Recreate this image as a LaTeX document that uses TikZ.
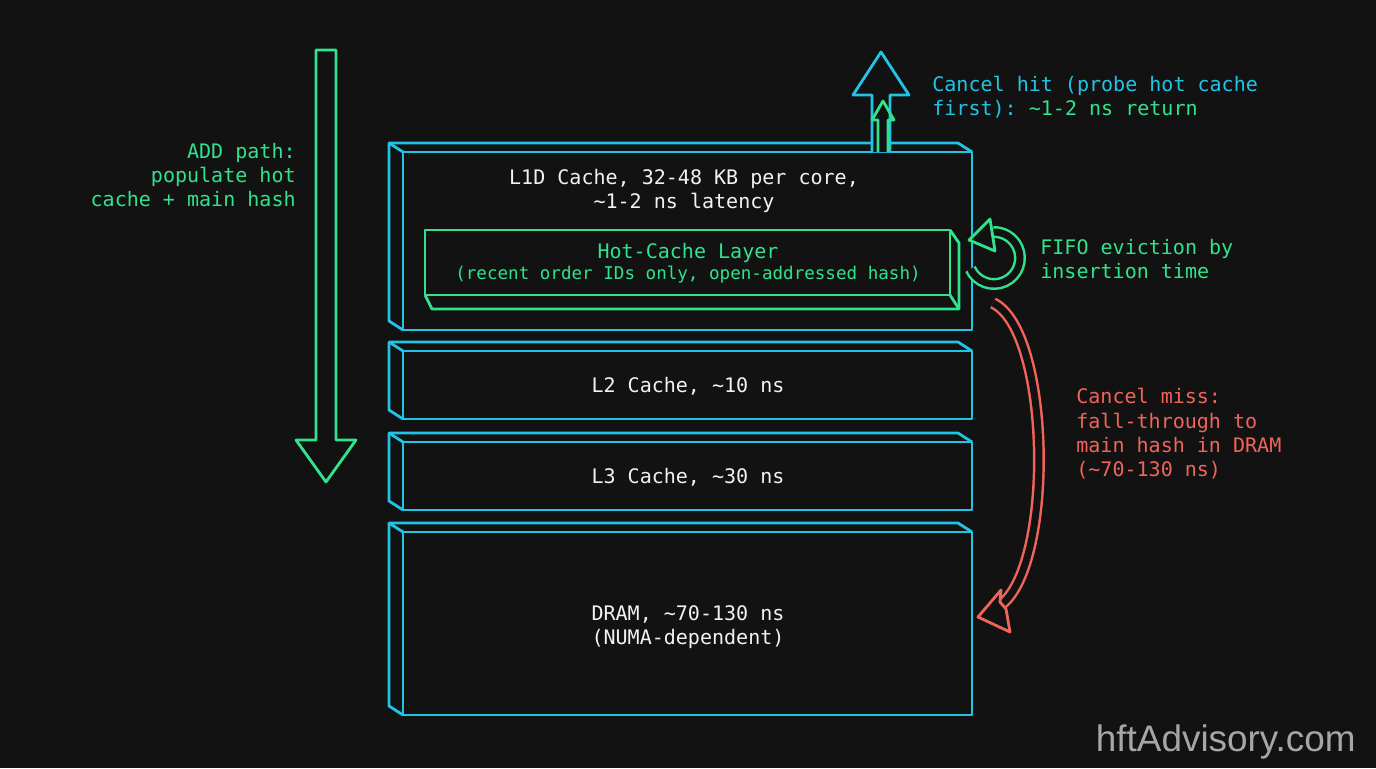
\documentclass[tikz,border=0pt]{standalone}
\usepackage{fontspec}
\setmonofont{DejaVu Sans Mono}
\setsansfont{Liberation Sans}
\definecolor{bg}{HTML}{121212}
\definecolor{cy}{HTML}{22C4E6}
\definecolor{gr}{HTML}{30E38C}
\definecolor{rd}{HTML}{F0645A}
\definecolor{tx}{HTML}{F2F2F2}
\begin{document}
\begin{tikzpicture}[x=0.02cm, y=-0.02cm,
  face/.style={draw=cy, line width=1.6pt, line join=round},
  hot/.style={draw=gr, line width=1.6pt, line join=round},
  lbl/.style={font=\ttfamily\fontsize{11.4}{13.9}\selectfont, align=center, text=tx, inner sep=0pt},
  note/.style={font=\ttfamily\fontsize{11.4}{13.9}\selectfont, inner sep=0pt}]

  \fill[bg] (0,0) rectangle (1376,768);
  \useasboundingbox (0,0) rectangle (1376,768);

  % memory layers: front face, then the slanted top and left side
  \foreach \name/\top/\bot in {l1d/152/330, ltwo/351/419, lthree/442/510, dram/532/715}{
    \draw[face] (403,\top) rectangle (972,\bot);
    \draw[face] (403,\bot) -- (389,\bot-9) -- (389,\top-9) -- (958,\top-9) -- (972,\top);
    \draw[face] (389,\top-9) -- (403,\top);
    \coordinate (\name) at (687.5,{(\top+\bot)/2});
  }
  \node[lbl] (l1dtext) at (684,191)
    {L1D Cache, 32-48 KB per core,\\\textasciitilde1-2 ns latency};
  \node[lbl] (l2text) at (688,386) {L2 Cache, \textasciitilde10 ns};
  \node[lbl] (l3text) at (688,477) {L3 Cache, \textasciitilde30 ns};
  \node[lbl] (dramtext) at (688,627) {DRAM, \textasciitilde70-130 ns\\(NUMA-dependent)};

  % hot cache inside L1D
  \draw[hot, fill=bg] (425,230) rectangle (950,295);
  \draw[hot] (425,295) -- (432,309) -- (959,309) -- (959,243) -- (950,230);
  \draw[hot] (950,295) -- (959,309);
  \node[lbl, text=gr] (hottext) at (688,253) {Hot-Cache Layer};
  \node[lbl, text=gr, font=\ttfamily\fontsize{10}{12}\selectfont] (hotsub) at (688,275)
    {(recent order IDs only, open-addressed hash)};

  % ADD path arrow
  \coordinate (addtop) at (326,50);
  \draw[hot] (316,50) -- (336,50) -- (336,440) -- (356,440) -- (326,482)
    -- (296,440) -- (316,440) -- cycle;
  \node[note, text=gr, anchor=east, align=right] (addlbl) at (296,175)
    {ADD path:\\populate hot\\cache + main hash};

  % cancel hit arrows
  \draw[face, fill=bg] (872,152) -- (872,95) -- (853,95) -- (881,52) -- (909,95)
    -- (890,95) -- (890,152);
  \draw[hot] (878,152) -- (878,120) -- (872,120) -- (883,101) -- (894,120)
    -- (888,120) -- (888,152);
  \node[note, anchor=west, align=left] (hitlbl) at (932,97)
    {\textcolor{cy}{Cancel hit (probe hot cache}\\\textcolor{cy}{first):} \textcolor{gr}{\textasciitilde1-2 ns return}};

  % FIFO eviction loop
  \coordinate (loopc) at (994,258);
  \draw[draw=gr, double=bg, double distance=4pt, line width=1.4pt]
    ([shift={(205:0.52cm)}]loopc) arc[start angle=205, end angle=452, radius=0.52cm];
  \draw[hot, fill=bg] (969,240) -- (990,219) -- (995,251) -- cycle;
  \node[note, text=gr, anchor=west, align=left] (fifolbl) at (1040,259)
    {FIFO eviction by\\insertion time};

  % cancel miss fall-through
  \coordinate (missstart) at (993,303);
  \coordinate (missend) at (1002,604);
  \draw[draw=rd, double=bg, double distance=4pt, line width=1.4pt]
    (missstart) .. controls (1050,330) and (1055,560) .. (missend);
  \draw[draw=rd, line width=1.6pt, fill=bg, line join=round]
    (978,617) -- (1001,590) -- (1000,602) -- (1006,609) -- (1010,632) -- cycle;
  \node[note, text=rd, anchor=west, align=left] (misslbl) at (1076,434)
    {Cancel miss:\\fall-through to\\main hash in DRAM\\(\textasciitilde70-130 ns)};

  \node[font=\sffamily\fontsize{21}{24}\selectfont, text=gray!70, anchor=east, inner sep=0pt]
    (mark) at (1356,742) {hftAdvisory.com};
\end{tikzpicture}
\end{document}
